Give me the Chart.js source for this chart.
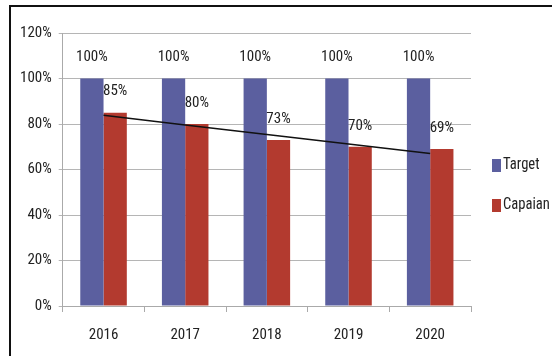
<!DOCTYPE html>
<html>
<head>
<meta charset="utf-8">
<script src="https://cdn.jsdelivr.net/npm/chart.js@4.4.1/dist/chart.umd.min.js"></script>
<style>
  html, body { margin: 0; padding: 0; background: #fff; overflow: hidden; }
  #bingkai {
    position: absolute; left: 9px; top: 5px; width: 600px; height: 400px;
    border: 2px solid #111; box-sizing: border-box;
  }
  #wadah { position: absolute; left: 0; top: 0; width: 552px; height: 356px; }
</style>
</head>
<body>
<div id="bingkai"></div>
<div id="wadah"><canvas id="grafik"></canvas></div>
<script>
// data
const tahun    = ['2016', '2017', '2018', '2019', '2020'];
const target   = [100, 100, 100, 100, 100];
const capaian  = [85, 80, 73, 70, 69];
const tren     = [83.8, 79.6, 75.4, 71.2, 67.0];   // garis tren (perkiraan dari gambar)
const tickY    = [0, 20, 40, 60, 80, 100, 120];

const FONT = "'Liberation Sans Narrow', 'Roboto Condensed', 'Arial Narrow', 'Liberation Sans', sans-serif";

// label nilai di atas batang
const labelBatang = {
  id: 'labelBatang',
  afterDatasetsDraw(chart) {
    const ctx = chart.ctx;
    ctx.save();
    ctx.font = '15px ' + FONT;
    ctx.fillStyle = '#222';
    ctx.textAlign = 'center';
    ctx.textBaseline = 'middle';
    chart.data.datasets.forEach((ds, i) => {
      if (ds.type === 'line') return;
      chart.getDatasetMeta(i).data.forEach((bar, j) => {
        ctx.fillText(ds.data[j] + '%', bar.x, bar.y - 21);
      });
    });
    ctx.restore();
  }
};

// legenda di sebelah kanan (hanya Target & Capaian)
const legendaKanan = {
  id: 'legendaKanan',
  afterDraw(chart) {
    const ctx = chart.ctx;
    const x = chart.chartArea.right + 21;
    let y = 165;
    ctx.save();
    ctx.font = '17px ' + FONT;
    ctx.textBaseline = 'middle';
    chart.data.datasets.forEach(ds => {
      if (ds.type === 'line') return;
      ctx.fillStyle = ds.backgroundColor;
      ctx.fillRect(x, y - 6, 9, 13);
      ctx.fillStyle = '#222';
      // huruf dipersempit supaya mirip font condensed aslinya
      const lebar = ctx.measureText(ds.label).width * 0.86;
      ctx.fillText(ds.label, x + 11, y, lebar);
      y += 40;
    });
    ctx.restore();
  }
};

new Chart(document.getElementById('grafik'), {
  type: 'bar',
  data: {
    labels: tahun,
    datasets: [
      {
        type: 'line',
        label: 'Tren',
        data: tren,
        borderColor: '#111',
        borderWidth: 1.5,
        pointRadius: 0,
        fill: false,
        order: 0
      },
      {
        label: 'Target',
        data: target,
        backgroundColor: '#5b5f9f',
        order: 1
      },
      {
        label: 'Capaian',
        data: capaian,
        backgroundColor: '#b33a2f',
        order: 1
      }
    ]
  },
  options: {
    responsive: true,
    maintainAspectRatio: false,
    animation: false,
    categoryPercentage: 0.57,
    barPercentage: 1,
    layout: { padding: { left: 13, top: 33, right: 81, bottom: -2 } },
    plugins: {
      tooltip: { enabled: false },
      legend: { display: false }
    },
    scales: {
      x: {
        grid: { drawOnChartArea: false, drawTicks: true, tickLength: 6, color: '#aaa' },
        border: { color: '#aaa' },
        ticks: { color: '#222', padding: 14, font: { family: FONT, size: 15 } }
      },
      y: {
        min: 0,
        max: 120,
        afterBuildTicks: axis => { axis.ticks = tickY.map(v => ({ value: v })); },
        grid: { color: '#b5b5b5', tickLength: 4 },
        border: { color: '#aaa' },
        ticks: {
          color: '#222',
          padding: 7,
          font: { family: FONT, size: 15 },
          callback: v => v + '%'
        }
      }
    }
  },
  plugins: [labelBatang, legendaKanan]
});
</script>
</body>
</html>
